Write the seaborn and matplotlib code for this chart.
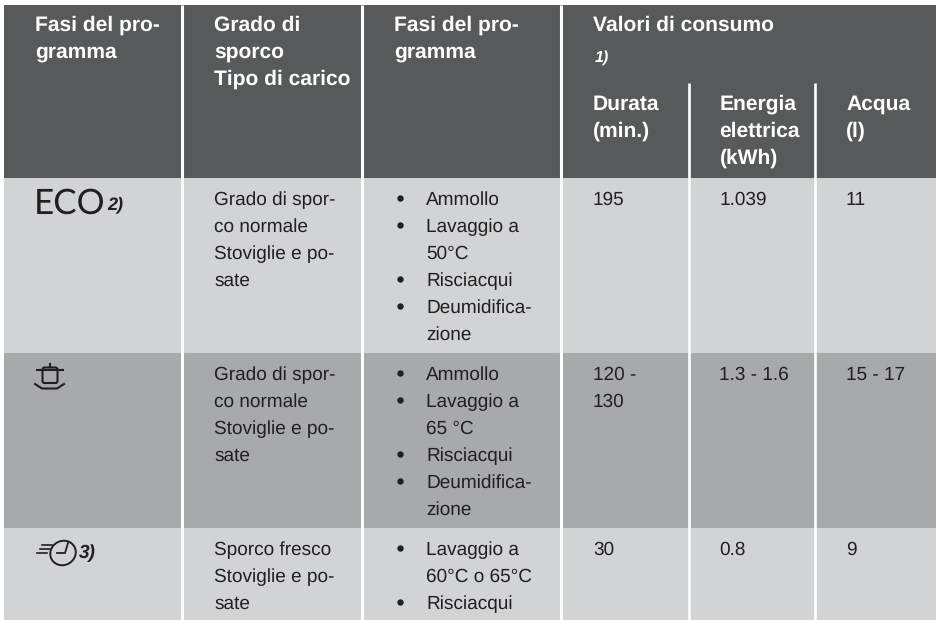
import matplotlib
matplotlib.use('Agg')
import matplotlib.pyplot as plt
import seaborn as sns
import numpy as np
from matplotlib.colors import ListedColormap
from matplotlib.patches import Ellipse, FancyBboxPatch

DARK = '#58595b'
LIGHT = '#d1d3d4'
MID = '#a7a9ac'
INK = '#231f20'

# table contents
header_cols = ['Fasi del pro-\ngramma', 'Grado di\nsporco\nTipo di carico', 'Fasi del pro-\ngramma']
group_title = 'Valori di consumo'
group_note = '1)'
sub_cols = ['Durata\n(min.)', 'Energia\nelettrica\n(kWh)', 'Acqua\n(l)']

soil = ['Grado di spor-\nco normale\nStoviglie e po-\nsate',
        'Grado di spor-\nco normale\nStoviglie e po-\nsate',
        'Sporco fresco\nStoviglie e po-\nsate']
phases = [['Ammollo', 'Lavaggio a\n50°C', 'Risciacqui', 'Deumidifica-\nzione'],
          ['Ammollo', 'Lavaggio a\n65 °C', 'Risciacqui', 'Deumidifica-\nzione'],
          ['Lavaggio a\n60°C o 65°C', 'Risciacqui']]
duration = ['195', '120 -\n130', '30']
energy = ['1.039', '1.3 - 1.6', '0.8']
water = ['11', '15 - 17', '9']
notes = ['2)', None, '3)']

# shade code per row: 0 header, 1 light, 2 mid
row_shades = [0, 1, 2, 1]
row_heights = [173, 175, 175, 92]
W, H = 937, 620
LH = 27
font = 'Liberation Sans'

plt.rcParams['text.hinting'] = 'no_hinting'
plt.rcParams['text.hinting_factor'] = 1

fig = plt.figure(figsize=(W / 100, H / 100), dpi=100)

# row bands, one heatmap row per pixel so the uneven row heights stay right
bands = fig.add_axes([4 / W, 0, (W - 4) / W, (H - 5) / H])
sns.heatmap(np.repeat(row_shades, row_heights)[:, None], ax=bands,
            cmap=ListedColormap([DARK, LIGHT, MID]), vmin=0, vmax=2, cbar=False,
            xticklabels=False, yticklabels=False, rasterized=True)

ax = fig.add_axes([0, 0, 1, 1])
ax.patch.set_alpha(0)
ax.set_xlim(0, W)
ax.set_ylim(H, 0)
ax.axis('off')

# white separators
for x in [182.5, 362.5, 561]:
    ax.plot([x, x], [5, H], color='white', lw=2.2, solid_capstyle='butt')
for x in [688.7, 815.5]:
    ax.plot([x, x], [83, H], color='white', lw=1.9, solid_capstyle='butt')


def put(x, y, s, size=13.9, color=INK, **kw):
    # one text per line, the reference leading is fixed in pixels
    for n, line in enumerate(s.split('\n')):
        ax.text(x, y + n * LH, line, fontsize=size, color=color, family=font,
                va='baseline', ha='left', **kw)


for x, s in zip([35, 214, 394], header_cols):
    put(x, 31, s, size=15.3, color='white', weight='bold')
put(593, 31, group_title, size=15.3, color='white', weight='bold')
put(595, 62, group_note, size=11.5, color='white', weight='bold', style='italic')
for x, s in zip([593, 719.5, 846], sub_cols):
    put(x, 110, s, size=15.3, color='white', weight='bold')

row_base = [205, 380, 555]
for i, base in enumerate(row_base):
    put(214, base, soil[i])
    y = base
    for item in phases[i]:
        ax.plot([400.5], [y - 7], 'o', color=INK, ms=4.6, mew=0)
        put(426, y, item)
        y += LH * (item.count('\n') + 1)
    put(593, base, duration[i])
    put(719.5, base, energy[i])
    put(846, base, water[i])

# programme symbols
ax.text(34, 214, 'ECO', fontsize=25, color=INK, family='Lato', va='baseline', ha='left')
put(107, 209, notes[0], size=13, weight='bold', style='italic')
put(79, 558, notes[2], size=14, weight='bold', style='italic')

# pot icon, row 2
ax.add_patch(FancyBboxPatch((42.5, 367.5), 15, 15.5, boxstyle='round,pad=0,rounding_size=2',
                            fc='none', ec=INK, lw=1.5))
ax.plot([37, 63], [370, 370], color=INK, lw=1.5)
ax.plot([50, 50], [364, 367], color=INK, lw=1.5)
ax.plot([35, 42, 57, 64], [384, 388.5, 388.5, 384], color=INK, lw=1.5)

# quick wash icon, row 3
ax.add_patch(Ellipse((63, 553), 26, 24, angle=-30, fc='none', ec=INK, lw=1.4))
ax.plot([57, 65, 68], [553, 553, 543], color=INK, lw=1.3)
for y0, x0 in zip([545, 549, 553], [42, 40, 37]):
    ax.plot([x0, x0 + 10], [y0, y0], color=INK, lw=1.2)

fig.savefig('out.png', dpi=100)
